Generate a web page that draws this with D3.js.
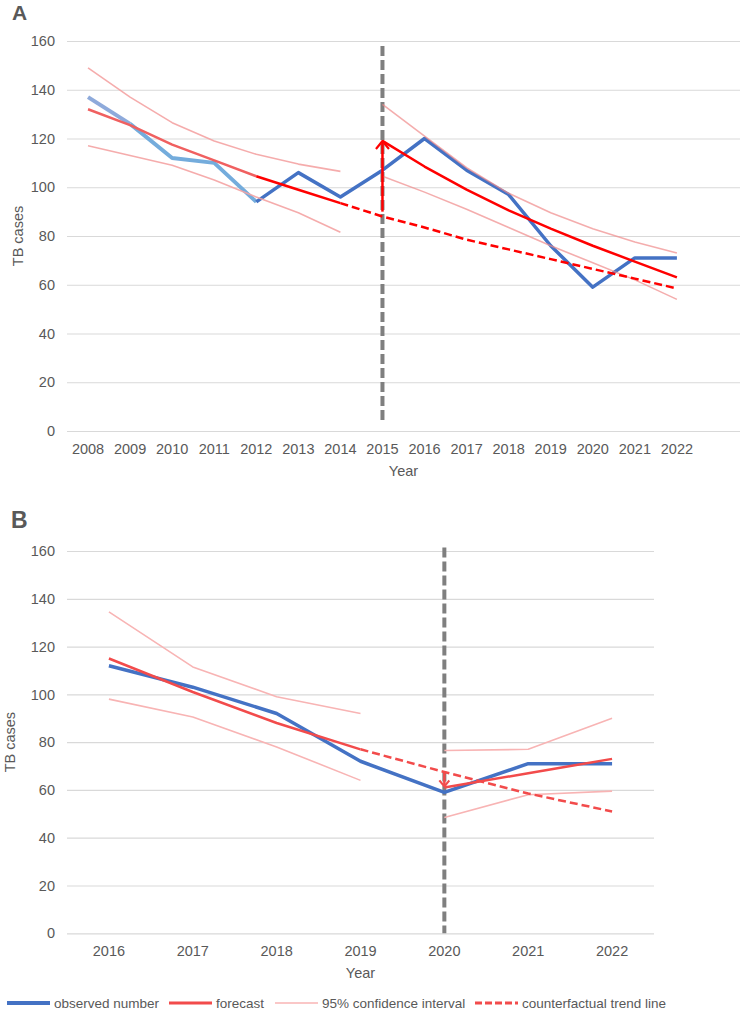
<!DOCTYPE html>
<html>
<head>
<meta charset="utf-8">
<script src="https://cdn.jsdelivr.net/npm/d3@7"></script>
<style>
  body { margin: 0; background: #fff; }
  text { font-family: "Liberation Sans", Arial, sans-serif; fill: #595959; }
</style>
</head>
<body>
<div id="chart"></div>
<script>
// ---- data ----
const yearsA = ["2008","2009","2010","2011","2012","2013","2014","2015","2016","2017","2018","2019","2020","2021","2022"];
const observedA       = [137, 126, 112, 110, 94, 106, 96, 107, 120, 107, 97, 76, 59, 71, 71];
const forecastPreA    = [132, 125.5, 117.5, 111, 104.5, 99, 93.5, null, null, null, null, null, null, null, null];
const counterfactualA = [null, null, null, null, null, null, 93.5, 88, 83.5, 78.5, 74.5, 70.5, 66.5, 62.5, 58.5];
const forecastPostA   = [null, null, null, null, null, null, null, 119, 108.5, 99, 90.5, 83, 76, 69.5, 63];
const upperPreA       = [149, 137, 126.5, 119, 113.5, 109.5, 106.5, null, null, null, null, null, null, null, null];
const lowerPreA       = [117, 113, 109, 103, 96, 89.5, 81.5, null, null, null, null, null, null, null, null];
const upperPostA      = [null, null, null, null, null, null, null, 134, 121, 108, 97.5, 89.5, 83, 77.5, 73];
const lowerPostA      = [null, null, null, null, null, null, null, 104.5, 98, 91, 83.5, 76, 69, 62, 54];
const breakA = "2015";
const breakLineA = [158, 4];
const arrowA = [90, 119];

const yearsB = ["2016","2017","2018","2019","2020","2021","2022"];
const observedB       = [112, 103, 92, 72, 59, 71, 71];
const forecastPreB    = [115, 101, 88, 77, null, null, null];
const counterfactualB = [null, null, null, 77, 67.5, 58.5, 51];
const forecastPostB   = [null, null, null, null, 61, 67, 73];
const upperPreB       = [134.5, 111.5, 99, 92, null, null, null];
const lowerPreB       = [98, 90.5, 78, 64, null, null, null];
const upperPostB      = [null, null, null, null, 76.5, 77, 90];
const lowerPostB      = [null, null, null, null, 48.5, 58, 59.5];
const breakB = "2020";
const breakLineB = [161.5, 0];
const arrowB = [67.5, 61.5];

const yTicks = [0, 20, 40, 60, 80, 100, 120, 140, 160];
const legendLabels = ["observed number", "forecast", "95% confidence interval", "counterfactual trend line"];

// ---- drawing ----
const svg = d3.select("#chart").append("svg")
  .attr("width", 742)
  .attr("height", 1015);

const defs = svg.append("defs");
function chevron(id, color, w, h) {
  defs.append("marker")
    .attr("id", id)
    .attr("markerUnits", "userSpaceOnUse")
    .attr("viewBox", `0 0 ${h} ${w}`)
    .attr("refX", h - 1)
    .attr("refY", w / 2)
    .attr("markerWidth", h)
    .attr("markerHeight", w)
    .attr("orient", "auto")
    .append("path")
    .attr("d", `M1,1 L${h - 1},${w / 2} L1,${w - 1}`)
    .attr("fill", "none")
    .attr("stroke", color)
    .attr("stroke-width", 2.2);
}
chevron("arrA", "#ff0000", 15, 10);
chevron("arrB", "#f24b4b", 12, 8);

const FONT = 14.5;

function panel(cfg) {
  const g = svg.append("g");
  const x = d3.scaleBand().domain(cfg.slots).range([cfg.left, cfg.right]).paddingInner(0).paddingOuter(0);
  const cx = d => x(d) + x.bandwidth() / 2;
  const y = d3.scaleLinear().domain([0, 160]).range([cfg.bottom, cfg.top]);

  // grid + y labels
  const yAxis = g.append("g")
    .attr("transform", `translate(${cfg.left},0)`)
    .call(d3.axisLeft(y).tickValues(yTicks).tickSize(-(cfg.right - cfg.left)).tickPadding(12));
  yAxis.select(".domain").remove();
  yAxis.selectAll("line").attr("stroke", "#d9d9d9").attr("stroke-width", 1.2);
  yAxis.selectAll("text").attr("font-size", FONT).attr("fill", "#595959")
    .style("font-family", "'Liberation Sans', Arial, sans-serif");

  const xAxis = g.append("g")
    .attr("transform", `translate(0,${cfg.bottom})`)
    .call(d3.axisBottom(x).tickSize(0).tickPadding(cfg.xPad));
  xAxis.select(".domain").remove();
  xAxis.selectAll("text").attr("font-size", FONT).attr("fill", "#595959")
    .style("font-family", "'Liberation Sans', Arial, sans-serif");

  g.append("text")
    .attr("x", (cfg.left + cfg.right) / 2)
    .attr("y", cfg.bottom + cfg.titleGap)
    .attr("text-anchor", "middle")
    .attr("font-size", FONT)
    .text("Year");

  g.append("text")
    .attr("transform", `translate(${cfg.yTitleX},${(cfg.top + cfg.bottom) / 2}) rotate(-90)`)
    .attr("text-anchor", "middle")
    .attr("font-size", FONT)
    .text("TB cases");

  g.append("text")
    .attr("x", cfg.letterX)
    .attr("y", cfg.letterY)
    .attr("font-size", cfg.letterSize)
    .attr("font-weight", "bold")
    .text(cfg.letter);

  const years = cfg.years;
  const line = d3.line()
    .defined(d => d.v != null)
    .x(d => cx(d.year))
    .y(d => y(d.v));
  const pts = arr => arr.map((v, i) => ({ year: years[i], v }));
  const slice = (arr, a, b) => arr.map((v, i) => (i >= a && i <= b ? v : null));

  function draw(arr, color, width, dash, opacity) {
    g.append("path")
      .datum(pts(arr))
      .attr("d", line)
      .attr("fill", "none")
      .attr("stroke", color)
      .attr("stroke-width", width)
      .attr("stroke-dasharray", dash || null)
      .attr("stroke-opacity", opacity == null ? 1 : opacity)
      .attr("stroke-linejoin", "round");
  }

  // intervention line
  g.append("line")
    .attr("x1", cx(cfg.breakYear)).attr("x2", cx(cfg.breakYear))
    .attr("y1", y(cfg.breakLine[0])).attr("y2", y(cfg.breakLine[1]))
    .attr("stroke", "#7f7f7f")
    .attr("stroke-width", 4)
    .attr("stroke-dasharray", "10,4");

  cfg.render(draw, slice);

  // arrow
  g.append("line")
    .attr("x1", cx(cfg.breakYear)).attr("x2", cx(cfg.breakYear))
    .attr("y1", y(cfg.arrow[0])).attr("y2", y(cfg.arrow[1]))
    .attr("stroke", cfg.arrowColor)
    .attr("stroke-width", 2.5)
    .attr("marker-end", `url(#${cfg.arrowId})`);
}

panel({
  years: yearsA,
  slots: yearsA.concat([" "]),
  left: 67, right: 740, top: 41, bottom: 431,
  xPad: 13, titleGap: 45, yTitleX: 23,
  letter: "A", letterX: 12, letterY: 20, letterSize: 21,
  breakYear: breakA, breakLine: breakLineA,
  arrow: arrowA, arrowColor: "#ff0000", arrowId: "arrA",
  render: (draw, slice) => {
    draw(slice(observedA, 0, 1), "#8eaadb", 4);
    draw(slice(observedA, 1, 4), "#74acdc", 4);
    draw(slice(observedA, 4, 14), "#4472c4", 3.5);
    draw(upperPreA, "#f4a3a3", 1.6, null, 0.9);
    draw(lowerPreA, "#f4a3a3", 1.6, null, 0.9);
    draw(upperPostA, "#ef8a8a", 1.6, null, 0.7);
    draw(lowerPostA, "#ef8a8a", 1.6, null, 0.7);
    draw(slice(forecastPreA, 0, 4), "#f06060", 2.5);
    draw(slice(forecastPreA, 4, 6), "#ff0000", 2.5);
    draw(counterfactualA, "#ff0000", 2.5, "8,4");
    draw(forecastPostA, "#ff0000", 2.5);
  }
});

panel({
  years: yearsB,
  slots: yearsB,
  left: 67, right: 654, top: 551, bottom: 933.3,
  xPad: 12.5, titleGap: 45, yTitleX: 15,
  letter: "B", letterX: 11, letterY: 528, letterSize: 23,
  breakYear: breakB, breakLine: breakLineB,
  arrow: arrowB, arrowColor: "#f24b4b", arrowId: "arrB",
  render: (draw, slice) => {
    draw(upperPreB, "#f8b4b4", 1.6);
    draw(lowerPreB, "#f8b4b4", 1.6);
    draw(upperPostB, "#f8b4b4", 1.6);
    draw(lowerPostB, "#f8b4b4", 1.6);
    draw(observedB, "#4472c4", 3.5);
    draw(forecastPreB, "#f24b4b", 2.5);
    draw(counterfactualB, "#f24b4b", 2.5, "8,4");
    draw(forecastPostB, "#f24b4b", 2.5);
  }
});

// legend
const legendStyle = [
  { color: "#4472c4", width: 4, dash: null, x: 7 },
  { color: "#f24b4b", width: 3, dash: null, x: 169 },
  { color: "#f8b4b4", width: 1.6, dash: null, x: 275 },
  { color: "#f24b4b", width: 3, dash: "7,3", x: 475 }
];
const legend = svg.append("g").attr("transform", "translate(0,1003)");
legendLabels.forEach((label, i) => {
  const s = legendStyle[i];
  legend.append("line")
    .attr("x1", s.x).attr("x2", s.x + 43)
    .attr("y1", 0).attr("y2", 0)
    .attr("stroke", s.color)
    .attr("stroke-width", s.width)
    .attr("stroke-dasharray", s.dash);
  legend.append("text")
    .attr("x", s.x + 47)
    .attr("y", 4.5)
    .attr("font-size", 13.5)
    .text(label);
});
</script>
</body>
</html>
